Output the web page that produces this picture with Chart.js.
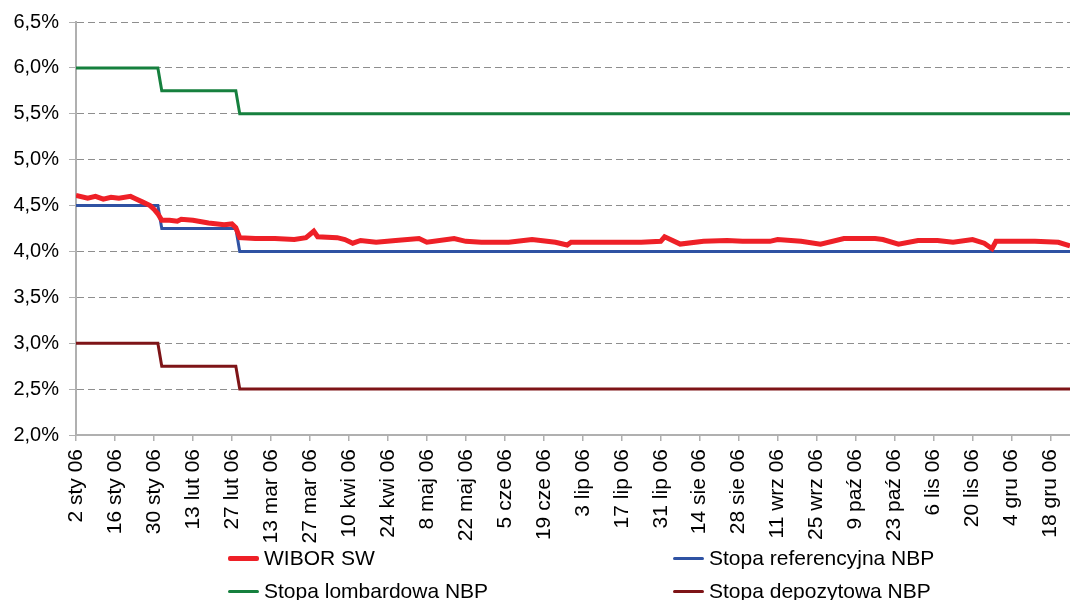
<!DOCTYPE html>
<html lang="pl">
<head>
    <meta charset="UTF-8">
    <title>WIBOR SW a stopy NBP 2006</title>
    <script src="https://cdn.jsdelivr.net/npm/chart.js"></script>
    <style>
        html, body { margin: 0; padding: 0; background: #fff; }
        .wrap {
            position: relative;
            width: 1070px;
            height: 600px;
            overflow: hidden;
            font-family: "Liberation Sans", Arial, sans-serif;
        }
        .legend {
            position: absolute;
            top: 546px;
            left: 228px;
            display: grid;
            grid-template-columns: 445px auto;
            row-gap: 9px;
        }
        .legend .item {
            display: flex;
            align-items: center;
            height: 24px;
            font-size: 21px;
            color: #000;
            white-space: nowrap;
        }
        .legend .item i {
            display: inline-block;
            width: 31px;
            margin-right: 5px;
            border-radius: 2px;
        }
    </style>
</head>
<body>
<div class="wrap">
    <canvas id="chart"></canvas>
    <div class="legend" id="legend"></div>
</div>

<script>
    // x = numer dnia roboczego od 2 sty 06 (oś kategorii co 10 dni roboczych)
    const xLabels = ['2 sty 06', '16 sty 06', '30 sty 06', '13 lut 06', '27 lut 06', '13 mar 06',
        '27 mar 06', '10 kwi 06', '24 kwi 06', '8 maj 06', '22 maj 06', '5 cze 06', '19 cze 06',
        '3 lip 06', '17 lip 06', '31 lip 06', '14 sie 06', '28 sie 06', '11 wrz 06', '25 wrz 06',
        '9 paź 06', '23 paź 06', '6 lis 06', '20 lis 06', '4 gru 06', '18 gru 06'];

    const wiborDay = [0, 3, 5, 7, 9, 11, 14, 15, 17, 19, 20, 21, 22, 24, 26, 27, 30, 34, 38, 40,
        41, 42, 46, 51, 56, 59, 61, 62, 67, 69, 71, 73, 77, 82, 88, 90, 97, 100, 104, 111,
        117, 123, 126, 127, 136, 145, 150, 151, 155, 161, 167, 171, 178, 180, 186, 191, 197, 205, 207, 211,
        216, 221, 225, 230, 233, 235, 236, 246, 252, 255];
    const wiborVal = [4.61, 4.58, 4.60, 4.57, 4.59, 4.58, 4.60, 4.58, 4.54, 4.50, 4.46, 4.41, 4.34, 4.34, 4.33, 4.35, 4.34, 4.31, 4.29, 4.30,
        4.26, 4.15, 4.14, 4.14, 4.13, 4.15, 4.22, 4.16, 4.15, 4.13, 4.09, 4.12, 4.10, 4.12, 4.14, 4.10, 4.14, 4.11, 4.10, 4.10,
        4.13, 4.10, 4.07, 4.10, 4.10, 4.10, 4.11, 4.16, 4.08, 4.11, 4.12, 4.11, 4.11, 4.13, 4.11, 4.08, 4.14, 4.14, 4.13, 4.08,
        4.12, 4.12, 4.10, 4.13, 4.09, 4.03, 4.11, 4.11, 4.10, 4.06];

    const nbpDay = [0, 21, 22, 41, 42, 259];
    const refRate = [4.5, 4.5, 4.25, 4.25, 4.0, 4.0];
    const lombardRate = [6.0, 6.0, 5.75, 5.75, 5.5, 5.5];
    const depositRate = [3.0, 3.0, 2.75, 2.75, 2.5, 2.5];

    const yMin = 2.0, yMax = 6.5, yStep = 0.5;

    const FONT = '"Liberation Sans", Arial, sans-serif';

    function pts(xs, ys) {
        return xs.map((x, i) => ({ x: x, y: ys[i] }));
    }

    const series = [
        { label: 'WIBOR SW', data: pts(wiborDay, wiborVal), color: '#ee2027', width: 5 },
        { label: 'Stopa referencyjna NBP', data: pts(nbpDay, refRate), color: '#2f52a3', width: 3 },
        { label: 'Stopa lombardowa NBP', data: pts(nbpDay, lombardRate), color: '#16803e', width: 3 },
        { label: 'Stopa depozytowa NBP', data: pts(nbpDay, depositRate), color: '#7e1417', width: 3 }
    ];

    const ctx = document.getElementById('chart').getContext('2d');
    new Chart(ctx, {
        type: 'line',
        data: {
            datasets: series.map(s => ({
                label: s.label,
                data: s.data,
                borderColor: s.color,
                backgroundColor: s.color,
                borderWidth: s.width,
                pointRadius: 0,
                tension: 0,
                fill: false
            }))
        },
        options: {
            responsive: true,
            maintainAspectRatio: false,
            animation: false,
            layout: { padding: { top: 21, right: 0, bottom: 0, left: 0 } },
            plugins: {
                legend: { display: false },
                tooltip: { enabled: false }
            },
            scales: {
                x: {
                    type: 'linear',
                    min: 0,
                    max: 255,
                    afterFit: function (scale) {
                        scale.height = 165;
                        scale.paddingRight = 0;
                    },
                    ticks: {
                        stepSize: 10,
                        includeBounds: false,
                        autoSkip: false,
                        maxRotation: 90,
                        minRotation: 90,
                        padding: 8,
                        color: '#000',
                        font: { family: FONT, size: 21 },
                        callback: function (v) {
                            const lbl = xLabels[Math.round(v / 10)];
                            return lbl === undefined ? '' : lbl;
                        }
                    },
                    grid: {
                        drawOnChartArea: false,
                        drawTicks: true,
                        tickLength: 6,
                        color: '#b0b0b0',
                        lineWidth: 1.5
                    },
                    border: { color: '#b0b0b0', width: 2 }
                },
                y: {
                    min: yMin,
                    max: yMax,
                    afterFit: function (scale) { scale.width = 76; },
                    ticks: {
                        stepSize: yStep,
                        padding: 10,
                        color: '#000',
                        font: { family: FONT, size: 20 },
                        callback: function (v) {
                            return v.toFixed(1).replace('.', ',') + '%';
                        }
                    },
                    grid: {
                        color: '#8e8e8e',
                        lineWidth: 1,
                        tickLength: 7,
                        tickColor: '#b0b0b0',
                        tickBorderDash: []
                    },
                    border: { color: '#b0b0b0', width: 2, dash: [7, 4] }
                }
            }
        }
    });

    // legenda w dwóch kolumnach, jak w oryginale
    const legendEl = document.getElementById('legend');
    series.forEach(s => {
        const item = document.createElement('div');
        item.className = 'item';
        const sw = document.createElement('i');
        sw.style.height = Math.round(s.width) + 'px';
        sw.style.background = s.color;
        item.appendChild(sw);
        item.appendChild(document.createTextNode(s.label));
        legendEl.appendChild(item);
    });
</script>
</body>
</html>
